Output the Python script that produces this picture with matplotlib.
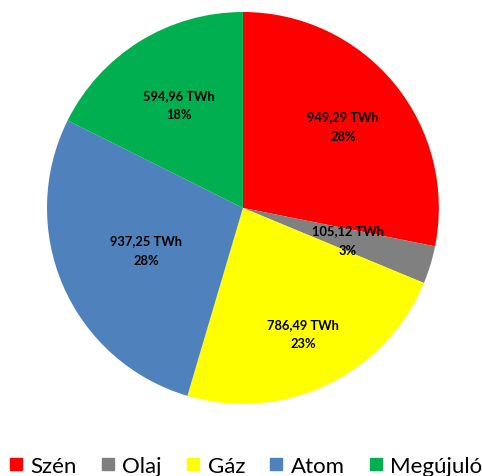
import numpy as np
import matplotlib.pyplot as plt
from matplotlib.lines import Line2D

# energy mix data
sources = ["Szén", "Olaj", "Gáz", "Atom", "Megújuló"]
twh = [949.29, 105.12, 786.49, 937.25, 594.96]
colors = ["#FF0000", "#808080", "#FFFF00", "#4F81BD", "#00B050"]
label_r = [0.66, 0.56, 0.71, 0.54, 0.62]  # label distance from centre, per slice

plt.rcParams['font.family'] = ['Lato', 'DejaVu Sans']

fig = plt.figure(figsize=(4.82, 4.77), dpi=100)
ax = fig.add_axes([0.0975, 0.151, 0.813, 0.822])

wedges, _ = ax.pie(twh, colors=colors, startangle=90, counterclock=False,
                   radius=1.0, wedgeprops=dict(linewidth=0))
total = sum(twh)
for w, v, r in zip(wedges, twh, label_r):
    ang = np.deg2rad((w.theta1 + w.theta2) / 2)
    txt = ("%.2f TWh" % v).replace(".", ",") + "\n%d%%" % round(v / total * 100)
    ax.text(r * np.cos(ang), r * np.sin(ang), txt, ha="center", va="center",
            fontsize=9.3, fontweight="bold", linespacing=1.75)
ax.set_xlim(-1, 1)
ax.set_ylim(-1, 1)
ax.set_aspect("equal")
ax.axis("off")

handles = [Line2D([], [], marker="s", linestyle="", markersize=8, color=c) for c in colors]
fig.legend(handles, sources, loc="center", bbox_to_anchor=(0.51, 0.022), ncol=5,
           frameon=False, fontsize=16, handletextpad=0.35, columnspacing=1.1,
           handlelength=0.6, borderpad=0, borderaxespad=0)

fig.savefig("out.png", dpi=100)
